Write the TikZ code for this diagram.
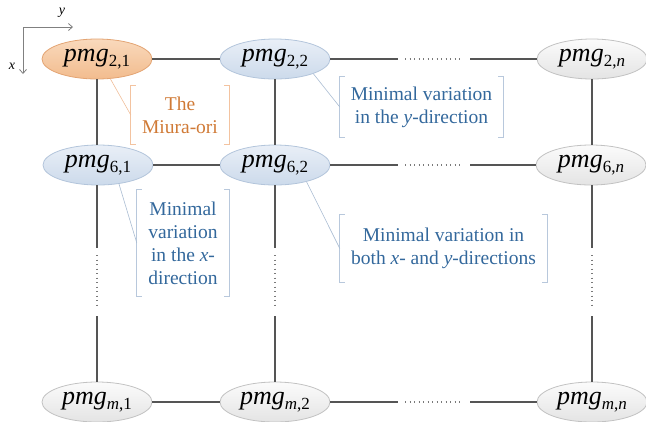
\documentclass[tikz,border=0pt]{standalone}
\usepackage{fontspec}
\setmainfont{Liberation Serif}
\usetikzlibrary{arrows.meta,shapes.geometric}
\definecolor{linegray}{HTML}{555555}
\definecolor{dotgray}{HTML}{7A7A7A}
\definecolor{bluetext}{HTML}{33689C}
\definecolor{orangetext}{HTML}{D07A36}
\definecolor{bluebr}{HTML}{B8C8DC}
\definecolor{orangebr}{HTML}{F3C3A0}
\definecolor{leadblue}{HTML}{A9BCD2}
\definecolor{leadorange}{HTML}{F0BE9A}
\definecolor{orangetop}{HTML}{F9D9BC}
\definecolor{orangebot}{HTML}{F2BC8E}
\definecolor{orangeedge}{HTML}{E3A473}
\definecolor{bluetop}{HTML}{E9EFF7}
\definecolor{bluebot}{HTML}{CCDAEB}
\definecolor{blueedge}{HTML}{B3C5DB}
\definecolor{graytop}{HTML}{FBFBFB}
\definecolor{graybot}{HTML}{E4E4E4}
\definecolor{grayedge}{HTML}{C2C2C2}
\newcommand\pmgtxt[1]{{\fontsize{26}{26}\selectfont\itshape pmg}{\fontsize{17}{17}\selectfont\raisebox{-5pt}{#1}}}
\newcommand\drawbrackets[2]{%
  \draw[#2] ([xshift=5pt]#1.north west) -- (#1.north west) -- (#1.south west) -- ([xshift=5pt]#1.south west);
  \draw[#2] ([xshift=-5pt]#1.north east) -- (#1.north east) -- (#1.south east) -- ([xshift=-5pt]#1.south east);}
\tikzset{
  cell/.style={ellipse, minimum width=110pt, minimum height=40pt, inner sep=0pt, line width=0.8pt},
  orangecell/.style={cell, draw=orangeedge, top color=orangetop, bottom color=orangebot},
  bluecell/.style={cell, draw=blueedge, top color=bluetop, bottom color=bluebot},
  graycell/.style={cell, draw=grayedge, top color=graytop, bottom color=graybot},
  link/.style={draw=linegray, line width=1.2pt},
  dotlink/.style={draw=dotgray, line width=1.1pt, dash pattern=on 1pt off 3.5pt},
  callout/.style={inner sep=0pt, align=center, font=\fontsize{19.5}{23}\selectfont},
  bluebrk/.style={draw=bluebr, line width=0.8pt},
  orangebrk/.style={draw=orangebr, line width=0.8pt},
  leader/.style={draw=leadblue, line width=0.6pt},
  axis/.style={draw=black!50, line width=0.8pt, -{Straight Barb[length=4pt,width=7pt]}}
}
\begin{document}
\begin{tikzpicture}[x=1pt,y=-1pt]
\useasboundingbox (0,0) rectangle (646,421);
% axes
\coordinate (o) at (23,27);
\coordinate (ay) at (73,27);
\coordinate (ax) at (23,74);
\draw[axis] (o) -- (ay);
\draw[axis] (o) -- (ax);
\node[font=\fontsize{14}{14}\selectfont\itshape, inner sep=0pt] (ly) at (62,13) {y};
\node[font=\fontsize{14}{14}\selectfont\itshape, inner sep=0pt] (lx) at (12,66) {x};
% nodes
\node[orangecell] (n21) at (97,59) {\pmgtxt{2,1}};
\node[bluecell] (n22) at (275,59) {\pmgtxt{2,2}};
\node[graycell] (n2n) at (592,59) {\pmgtxt{2,\textit{n}}};
\node[bluecell] (n61) at (98,165) {\pmgtxt{6,1}};
\node[bluecell] (n62) at (275,165) {\pmgtxt{6,2}};
\node[graycell] (n6n) at (591,165) {\pmgtxt{6,\textit{n}}};
\node[graycell] (nm1) at (97,402) {\pmgtxt{\textit{m},1}};
\node[graycell] (nm2) at (275,402) {\pmgtxt{\textit{m},2}};
\node[graycell] (nmn) at (592,402) {\pmgtxt{\textit{m},\textit{n}}};
% gap coordinates
\foreach \r/\y in {2/59,6/165,m/402}{
  \coordinate (h\r a) at (398,\y);
  \coordinate (h\r b) at (405,\y);
  \coordinate (h\r c) at (461,\y);
  \coordinate (h\r d) at (470,\y);
}
\foreach \c/\x in {1/97,2/275,n/592}{
  \coordinate (v\c a) at (\x,248);
  \coordinate (v\c b) at (\x,255);
  \coordinate (v\c c) at (\x,309);
  \coordinate (v\c d) at (\x,316);
}
% horizontal links
\draw[link] (n21) -- (n22);
\draw[link] (n22) -- (h2a);
\draw[dotlink] (h2b) -- (h2c);
\draw[link] (h2d) -- (n2n);
\draw[link] (n61) -- (n62);
\draw[link] (n62) -- (h6a);
\draw[dotlink] (h6b) -- (h6c);
\draw[link] (h6d) -- (n6n);
\draw[link] (nm1) -- (nm2);
\draw[link] (nm2) -- (hma);
\draw[dotlink] (hmb) -- (hmc);
\draw[link] (hmd) -- (nmn);
% vertical links
\draw[link] (n21.south) -- (n61.north -| n21.south);
\draw[link] (n22) -- (n62);
\draw[link] (n2n.south) -- (n6n.north -| n2n.south);
\draw[link] (n61.south -| v1a) -- (v1a);
\draw[dotlink] (v1b) -- (v1c);
\draw[link] (v1d) -- (nm1);
\draw[link] (n62) -- (v2a);
\draw[dotlink] (v2b) -- (v2c);
\draw[link] (v2d) -- (nm2);
\draw[link] (n6n.south -| vna) -- (vna);
\draw[dotlink] (vnb) -- (vnc);
\draw[link] (vnd) -- (nmn);
% callouts
\node[callout, text=orangetext, minimum width=98pt, minimum height=58pt] (c1) at (180,115) {The\\Miura-ori};
\node[callout, text=bluetext, minimum width=163pt, minimum height=60pt] (c2) at (421.5,107) {Minimal variation\\in the \textit{y}-direction};
\node[callout, text=bluetext, minimum width=92pt, minimum height=106pt] (c3) at (183,243) {Minimal\\variation\\in the \textit{x}-\\direction};
\node[callout, text=bluetext, minimum width=207pt, minimum height=67pt] (c4) at (443.5,248.5) {Minimal variation in\\both \textit{x}- and \textit{y}-directions};
\drawbrackets{c1}{orangebrk}
\drawbrackets{c2}{bluebrk}
\drawbrackets{c3}{bluebrk}
\drawbrackets{c4}{bluebrk}
\draw[leader, draw=leadorange] (n21.-56) -- (c1.west);
\draw[leader] (n22.-21) -- (c2.west);
\draw[leader] (n61.-42) -- (c3.west);
\draw[leader] (n62.-28) -- (c4.west);
\end{tikzpicture}
\end{document}
